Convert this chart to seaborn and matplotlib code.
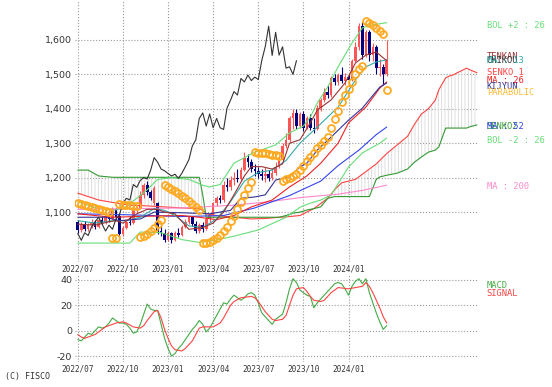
import matplotlib
matplotlib.use('Agg')
import matplotlib.pyplot as plt
import seaborn as sns

# weekly candles, index 0 = first week of 2022/07
opens = [1070, 1048, 1066, 1050, 1062, 1072, 1058, 1078, 1070, 1088,
         1080, 1108, 1090, 1035, 1055, 1072, 1068, 1108, 1112, 1150,
         1178, 1158, 1125, 1125, 1045, 1040, 1020, 1038, 1018, 1040,
         1032, 1058, 1072, 1085, 1065, 1045, 1062, 1050, 1080, 1092,
         1125, 1140, 1135, 1180, 1172, 1192, 1200, 1196, 1222, 1258,
         1245, 1225, 1220, 1212, 1205, 1210, 1198, 1213, 1232, 1252,
         1292, 1310, 1372, 1388, 1350, 1385, 1345, 1372, 1345, 1340,
         1402, 1425, 1450, 1440, 1488, 1478, 1498, 1482, 1492, 1485,
         1540, 1580, 1640, 1555, 1622, 1556, 1580, 1518, 1522, 1500]
highs = [1078, 1072, 1075, 1068, 1080, 1078, 1082, 1088, 1092, 1098,
         1115, 1112, 1098, 1060, 1078, 1090, 1112, 1118, 1160, 1185,
         1190, 1165, 1175, 1130, 1060, 1050, 1045, 1042, 1045, 1055,
         1062, 1080, 1090, 1090, 1075, 1068, 1070, 1085, 1098, 1130,
         1148, 1150, 1190, 1200, 1205, 1215, 1225, 1230, 1274, 1270,
         1255, 1240, 1232, 1225, 1232, 1222, 1225, 1245, 1262, 1300,
         1330, 1380, 1400, 1398, 1392, 1395, 1380, 1385, 1372, 1410,
         1430, 1460, 1470, 1495, 1500, 1505, 1520, 1505, 1500, 1545,
         1595, 1650, 1652, 1630, 1628, 1590, 1585, 1545, 1530, 1600]
lows = [1040, 1042, 1045, 1044, 1055, 1052, 1055, 1065, 1066, 1072,
        1078, 1080, 1025, 1030, 1050, 1062, 1065, 1098, 1108, 1140,
        1150, 1135, 1120, 1035, 1030, 1012, 1015, 1010, 1015, 1028,
        1030, 1055, 1065, 1060, 1040, 1040, 1042, 1048, 1072, 1088,
        1118, 1125, 1130, 1160, 1165, 1180, 1188, 1190, 1218, 1232,
        1215, 1205, 1200, 1192, 1188, 1190, 1192, 1208, 1228, 1248,
        1285, 1305, 1340, 1340, 1345, 1335, 1340, 1338, 1330, 1338,
        1395, 1420, 1430, 1435, 1470, 1470, 1475, 1470, 1465, 1480,
        1535, 1570, 1545, 1550, 1540, 1540, 1500, 1495, 1470, 1495]
closes = [1048, 1066, 1050, 1062, 1072, 1058, 1078, 1070, 1088, 1080,
          1108, 1085, 1035, 1055, 1072, 1068, 1108, 1112, 1150, 1178,
          1158, 1140, 1170, 1045, 1040, 1020, 1038, 1018, 1040, 1032,
          1058, 1072, 1085, 1065, 1045, 1062, 1050, 1080, 1092, 1125,
          1140, 1135, 1180, 1172, 1192, 1200, 1196, 1222, 1258, 1245,
          1225, 1220, 1212, 1205, 1210, 1198, 1213, 1232, 1252, 1292,
          1310, 1372, 1388, 1350, 1385, 1345, 1372, 1345, 1340, 1402,
          1425, 1450, 1440, 1488, 1478, 1498, 1482, 1492, 1485, 1540,
          1580, 1640, 1555, 1622, 1556, 1580, 1518, 1522, 1500, 1540]

sar = [1126, 1123, 1120, 1117, 1114, 1111, 1108, 1105, 1102, 1099,
       1024, 1025,
       1123, 1122, 1121, 1120, 1119, 1117,
       1027, 1030, 1036, 1044, 1054, 1065, 1077,
       1180, 1174, 1168, 1162, 1155, 1148, 1140, 1132, 1123, 1114, 1105,
       1010, 1011, 1014, 1018, 1025, 1034, 1045, 1058, 1073, 1090, 1108,
       1128, 1150, 1170, 1188,
       1274, 1273, 1272, 1271, 1269, 1267, 1265, 1263,
       1190, 1195, 1200, 1205, 1212, 1222, 1235, 1248, 1260, 1272, 1285,
       1296, 1306, 1318, 1345, 1370, 1395, 1420, 1440, 1458, 1478, 1500,
       1515, 1525,
       1655, 1650, 1642, 1634, 1626, 1618,
       1455]

tenkan_x = [0, 5, 9, 11, 13, 17, 20, 23, 25, 28, 32, 36, 39, 42, 45, 48, 50,
            53, 56, 59, 61, 64, 67, 69, 73, 77, 80, 83, 86, 88, 89]
tenkan_y = [1065, 1062, 1072, 1075, 1068, 1095, 1108, 1108, 1100, 1095, 1050,
            1055, 1068, 1100, 1150, 1205, 1232, 1232, 1225, 1240, 1300, 1310,
            1359, 1396, 1426, 1475, 1533, 1556, 1565, 1548, 1540]
kijun_x = [0, 8, 12, 18, 22, 30, 38, 44, 47, 51, 54, 57, 61, 64, 66, 69, 73,
           78, 82, 87, 89]
kijun_y = [1085, 1085, 1075, 1080, 1100, 1098, 1095, 1105, 1140, 1144, 1150,
           1193, 1202, 1231, 1242, 1280, 1318, 1367, 1402, 1463, 1475]

senko_x = [0, 3, 6, 10, 15, 20, 25, 30, 35, 36, 37, 40, 45, 50, 55, 58, 60,
           62, 64, 66, 68, 70, 72, 74, 76, 80, 84, 86, 87, 89, 92, 95, 97, 99,
           101, 103, 104, 106, 107, 108, 110, 112, 113, 115]
senko1 = [1155, 1145, 1135, 1128, 1120, 1118, 1115, 1112, 1110, 1105, 1095,
          1090, 1085, 1080, 1082, 1085, 1086, 1088, 1090, 1100, 1110, 1125,
          1140, 1165, 1185, 1195, 1225, 1240, 1250, 1270, 1295, 1320, 1355,
          1385, 1400, 1425, 1455, 1490, 1495, 1498, 1508, 1518, 1513, 1505]
senko2 = [1222, 1222, 1205, 1201, 1201, 1201, 1201, 1201, 1201, 1150, 1085,
          1085, 1085, 1085, 1085, 1085, 1090, 1097, 1100, 1106, 1110, 1115,
          1140, 1145, 1145, 1145, 1145, 1195, 1202, 1207, 1213, 1225, 1245,
          1260, 1274, 1280, 1289, 1344, 1344, 1344, 1344, 1344, 1348, 1353]

ma13_x = [0, 5, 10, 14, 18, 22, 25, 28, 32, 36, 40, 44, 48, 52, 56, 60, 64,
          69, 75, 80, 83, 86, 89]
ma13_y = [1075, 1068, 1075, 1075, 1085, 1110, 1105, 1090, 1060, 1055, 1080,
          1130, 1190, 1215, 1222, 1250, 1300, 1347, 1405, 1484, 1522, 1536, 1542]
ma26_x = [0, 10, 20, 30, 35, 40, 45, 50, 56, 61, 66, 70, 75, 78, 83, 87, 89]
ma26_y = [1095, 1085, 1088, 1090, 1085, 1078, 1090, 1115, 1135, 1173, 1205,
          1242, 1300, 1359, 1405, 1460, 1478]
ma52_x = [0, 15, 30, 42, 51, 61, 70, 75, 81, 86, 89]
ma52_y = [1095, 1092, 1087, 1090, 1112, 1148, 1190, 1235, 1280, 1325, 1347]
ma200_x = [0, 30, 45, 55, 65, 75, 82, 89]
ma200_y = [1108, 1112, 1120, 1130, 1143, 1152, 1163, 1178]

bolu_x = [0, 5, 10, 13, 17, 20, 23, 27, 32, 36, 38, 41, 45, 51, 57, 61, 65,
          67, 69, 72, 75, 79, 82, 85, 89]
bolu_y = [1130, 1112, 1105, 1110, 1140, 1165, 1195, 1200, 1195, 1178, 1173,
          1180, 1242, 1274, 1295, 1330, 1350, 1376, 1417, 1463, 1522, 1591,
          1635, 1644, 1650]
boll_x = [0, 15, 18, 24, 30, 35, 40, 45, 52, 60, 64, 67, 70, 73, 78, 82, 87, 89]
boll_y = [1010, 1010, 1042, 1040, 1020, 1012, 1019, 1030, 1048, 1085, 1114,
          1126, 1135, 1150, 1231, 1272, 1300, 1315]

macd_x = list(range(90))
macd = [-7, -8, -5, -2, -3, 0, 3, 2, 3, 6, 10, 8, 6, 6, 5, 2, -2, -1, 5, 13,
        21, 17, 16, 16, 5, -6, -14, -20, -18, -14, -11, -7, -3, 1, 4, 8, 5,
        -1, 2, 7, 12, 17, 22, 21, 25, 28, 26, 24, 26, 29, 30, 28, 22, 14, 11,
        8, 5, 9, 11, 13, 22, 33, 41, 38, 32, 30, 28, 27, 18, 22, 25, 28, 31,
        34, 37, 38, 37, 33, 28, 35, 39, 41, 37, 41, 30, 22, 14, 7, 1, 4]
signal_x = [0, 1, 2, 3, 5, 7, 8, 10, 11, 13, 14, 16, 18, 19, 20, 22, 23, 24,
            25, 26, 27, 28, 30, 31, 33, 34, 35, 36, 39, 41, 42, 43, 44, 45, 47,
            50, 51, 52, 53, 54, 55, 56, 57, 59, 60, 61, 62, 63, 65, 66, 67, 68,
            70, 71, 72, 73, 75, 78, 80, 82, 83, 84, 85, 86, 87, 88, 89]
signal = [-3, -5, -6, -5, -3, 1, 3, 5, 6, 7, 6, 3, 2, 4, 8, 15, 16, 10, 1, -6,
          -12, -15, -16, -14, -8, -3, 2, 3, 3, 6, 10, 15, 20, 23, 26, 27, 26,
          23, 19, 15, 12, 9, 8, 9, 12, 20, 28, 33, 34, 31, 27, 24, 23, 24, 27,
          30, 34, 33, 34, 35, 38, 35, 30, 24, 18, 11, 6]

quarter_pos = [0, 13, 26, 39, 52, 65, 78]
quarter_lbl = ['2022/07', '2022/10', '2023/01', '2023/04', '2023/07',
               '2023/10', '2024/01']
price_ticks = [1100, 1200, 1300, 1400, 1500, 1600]
macd_ticks = [-20, 0, 20, 40]

sns.set_style('white')
plt.rcParams['hatch.linewidth'] = 0.6
mono = 'DejaVu Sans Mono'

fig = plt.figure(figsize=(5.52, 3.87), dpi=100)
ax = fig.add_axes([75 / 552, 1 - 262 / 387, 403 / 552, 262 / 387])
mx = fig.add_axes([75 / 552, 1 - 362 / 387, 403 / 552, 88 / 387])
mx.patch.set_alpha(0)

# cloud
ax.fill_between(senko_x, senko1, senko2, facecolor='none', edgecolor='#d9d9d9',
                hatch='|||||', linewidth=0, zorder=1)

# candles
weeks = list(range(len(closes)))
up_col, dn_col = '#ff5555', '#000080'
cols = [up_col if c >= o else dn_col for o, c in zip(opens, closes)]
ax.vlines(weeks, lows, highs, colors=cols, linewidth=0.8, zorder=3)
ax.bar(weeks, [max(abs(c - o), 2) for o, c in zip(opens, closes)],
       bottom=[min(o, c) for o, c in zip(opens, closes)], width=0.75,
       color=cols, linewidth=0, zorder=3)

lines = [
    (senko_x, senko1, '#ff4444'),
    (senko_x, senko2, '#339933'),
    (boll_x, boll_y, '#66dd77'),
    (bolu_x, bolu_y, '#66dd77'),
    (ma200_x, ma200_y, '#ff88cc'),
    (ma52_x, ma52_y, '#3344ee'),
    (ma26_x, ma26_y, '#ee2222'),
    (ma13_x, ma13_y, '#33aaaa'),
    (kijun_x, kijun_y, '#333399'),
    (tenkan_x, tenkan_y, '#993333'),
]
for xs, ys, c in lines:
    sns.lineplot(x=xs, y=ys, ax=ax, color=c, linewidth=0.8, sort=False,
                 estimator=None, zorder=4)

# chikou span: close shifted 26 weeks back
sns.lineplot(x=[w - 26 for w in weeks[26:]], y=closes[26:], ax=ax,
             color='#333333', linewidth=0.8, sort=False, estimator=None, zorder=4)

ax.plot(weeks, sar, 'o', mfc='none', mec='#ffaa22', ms=5, mew=1.3, zorder=5)

ax.set_xlim(-0.8, 115.3)
ax.set_ylim(955, 1716)
ax.set_yticks(price_ticks)
ax.set_yticklabels(['{:,}'.format(v) for v in price_ticks], fontsize=6.8,
                   color='#333333')
ax.set_xticks(quarter_pos)
ax.set_xticklabels(quarter_lbl, fontsize=5.6, family=mono, color='#333333')
ax.tick_params(length=0, pad=2)
ax.grid(True, linestyle=':', color='#999999', linewidth=0.8)
ax.set_xlabel('')
ax.set_ylabel('')
for s in ax.spines.values():
    s.set_visible(False)

right_labels = [
    ('BOL +2 : 26', 1641, '#66dd77'),
    ('TENKAN', 1553, '#993333'),
    ('CHIKOU', 1540, '#333333'),
    ('MA : 13', 1540, '#33aaaa'),
    ('SENKO 1', 1504, '#ff4444'),
    ('MA : 26', 1481, '#ee2222'),
    ('KIJYUN', 1465, '#333399'),
    ('PARABOLIC', 1446, '#ffbb33'),
    ('SENKO2', 1350, '#339933'),
    ('MA : 52', 1350, '#3344ee'),
    ('BOL -2 : 26', 1309, '#66dd77'),
    ('MA : 200', 1173, '#ff88cc'),
]
for txt, yv, c in right_labels:
    ax.text(1.022, yv, txt, transform=ax.get_yaxis_transform(), color=c,
            fontsize=6.3, family=mono, va='center', ha='left')

# MACD pane
sns.lineplot(x=macd_x, y=macd, ax=mx, color='#44aa44', linewidth=0.8,
             sort=False, estimator=None)
sns.lineplot(x=signal_x, y=signal, ax=mx, color='#ff4444', linewidth=0.8,
             sort=False, estimator=None)
mx.set_xlim(-0.8, 115.3)
mx.set_ylim(-24.7, 44.7)
mx.set_yticks(macd_ticks)
mx.set_yticklabels([str(v) for v in macd_ticks], fontsize=6.8, color='#333333')
mx.set_xticks(quarter_pos)
mx.set_xticklabels(quarter_lbl, fontsize=5.6, family=mono, color='#333333')
mx.tick_params(length=0, pad=2)
mx.grid(True, linestyle=':', color='#999999', linewidth=0.8)
mx.set_xlabel('')
mx.set_ylabel('')
for s in mx.spines.values():
    s.set_visible(False)
mx.text(1.022, 36, 'MACD', transform=mx.get_yaxis_transform(), color='#44aa44',
        fontsize=6.3, family=mono, va='center')
mx.text(1.022, 29, 'SIGNAL', transform=mx.get_yaxis_transform(), color='#ff4444',
        fontsize=6.3, family=mono, va='center')

fig.text(5 / 552, 1 - 377 / 387, '(C) FISCO', fontsize=6.0, family=mono,
         color='#333333', va='center')

fig.savefig('out.png', dpi=100)
